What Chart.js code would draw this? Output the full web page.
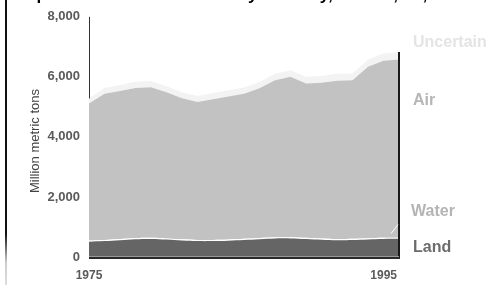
<!DOCTYPE html>
<html>
<head>
<meta charset="utf-8">
<script src="https://cdn.jsdelivr.net/npm/chart.js@4/dist/chart.umd.min.js"></script>
<style>
    html, body { margin: 0; padding: 0; background: #fff; }
    #wrap { position: relative; width: 492px; height: 285px; overflow: hidden; font-family: "Liberation Sans", Arial, sans-serif; }
    #title { position: absolute; left: 10px; top: -15px; font-size: 17px; line-height: 20px; font-weight: bold; color: #000; white-space: nowrap; }
    #edge { position: absolute; left: 5px; top: 0; width: 2px; height: 285px; background: linear-gradient(#111 0%, #111 82%, #ccc 92%, #ddd 100%); }
    .lbl { position: absolute; font-size: 16px; font-weight: bold; white-space: nowrap; }
    canvas { position: absolute; left: 0; top: 0; }
</style>
</head>
<body>
<div id="wrap">
    <canvas id="areaChart" width="492" height="285"></canvas>
    <div id="title">Disposal of toxic chemicals by industry, to land, air, and water in the U.S., 1975-95</div>
    <div id="edge"></div>
    <div class="lbl" style="left:413px;top:33px;color:#e4e4e4;">Uncertain</div>
    <div class="lbl" style="left:413px;top:91px;color:#b6b6b6;">Air</div>
    <div class="lbl" style="left:411px;top:202px;color:#b4b4b4;">Water</div>
    <div class="lbl" style="left:413px;top:238px;color:#6c6c6c;">Land</div>
</div>

<script>
/* =========================
   DATA (million metric tons)
========================= */

const years = [
    1975, 1976, 1977, 1978, 1979, 1980, 1981, 1982, 1983, 1984, 1985,
    1986, 1987, 1988, 1989, 1990, 1991, 1992, 1993, 1994, 1995
];

const land = [510, 530, 560, 590, 600, 580, 550, 530, 530, 545, 565, 590, 615, 620, 600, 575, 560, 565, 585, 600, 605];
const water = [40, 40, 40, 40, 40, 40, 40, 40, 40, 40, 40, 40, 40, 40, 40, 40, 40, 40, 40, 40, 40];
const air = [4560, 4870, 4930, 5000, 5010, 4870, 4700, 4590, 4680, 4760, 4830, 4990, 5230, 5340, 5140, 5190, 5270, 5280, 5710, 5900, 5930];
const uncertain = [170, 190, 200, 210, 210, 200, 200, 200, 210, 210, 210, 210, 220, 220, 220, 220, 230, 230, 240, 240, 250];

const yTicks = [0, 2000, 4000, 6000, 8000];
const xLabels = ["1975", "1995"];
const yTitle = "Million metric tons";

/* =========================
   FRAME PLUGIN
========================= */

const framePlugin = {
    id: "frame",
    afterDatasetsDraw(chart) {
        const ctx = chart.ctx;
        const x = chart.scales.x;
        const y = chart.scales.y;
        const area = chart.chartArea;
        const n = years.length - 1;

        const topFirst = land[0] + water[0] + air[0] + uncertain[0];
        const topLast = land[n] + water[n] + air[n] + uncertain[n];

        ctx.save();

        // left axis above the areas
        ctx.strokeStyle = "#333";
        ctx.lineWidth = 1;
        ctx.beginPath();
        ctx.moveTo(area.left + 0.5, area.top);
        ctx.lineTo(area.left + 0.5, y.getPixelForValue(topFirst));
        ctx.stroke();

        // right edge
        ctx.strokeStyle = "#1a1a1a";
        ctx.lineWidth = 2;
        ctx.beginPath();
        ctx.moveTo(x.getPixelForValue(n), y.getPixelForValue(topLast));
        ctx.lineTo(x.getPixelForValue(n), area.bottom + 1);
        ctx.stroke();

        // bottom edge
        ctx.strokeStyle = "#9a9a9a";
        ctx.lineWidth = 1;
        ctx.beginPath();
        ctx.moveTo(area.left, area.bottom - 0.5);
        ctx.lineTo(x.getPixelForValue(n), area.bottom - 0.5);
        ctx.stroke();

        ctx.strokeStyle = "#2a2a2a";
        ctx.lineWidth = 2;
        ctx.beginPath();
        ctx.moveTo(area.left, area.bottom + 1);
        ctx.lineTo(x.getPixelForValue(n) + 1, area.bottom + 1);
        ctx.stroke();

        // leader to the water band
        const wy = y.getPixelForValue(land[n] + water[n]);
        ctx.strokeStyle = "#fff";
        ctx.lineWidth = 1;
        ctx.beginPath();
        ctx.moveTo(x.getPixelForValue(n) - 8, wy - 4);
        ctx.lineTo(x.getPixelForValue(n) - 1, wy - 13);
        ctx.stroke();

        // x labels
        ctx.font = "bold 12px 'Liberation Sans', Arial, sans-serif";
        ctx.fillStyle = "#5a5a5a";
        ctx.textBaseline = "middle";
        ctx.textAlign = "center";
        ctx.fillText(xLabels[0], x.getPixelForValue(0), 276);
        ctx.textAlign = "right";
        ctx.fillText(xLabels[1], x.getPixelForValue(n) - 2, 276);

        // y title
        ctx.translate(35, 141);
        ctx.rotate(-Math.PI / 2);
        ctx.font = "13px 'Liberation Sans', Arial, sans-serif";
        ctx.fillStyle = "#444";
        ctx.textAlign = "center";
        ctx.fillText(yTitle, 0, 0);

        ctx.restore();
    }
};

/* =========================
   CHART
========================= */

function makeSet(label, data, color, tension, fill) {
    return {
        label: label,
        data: data,
        backgroundColor: color,
        borderWidth: 0,
        pointRadius: 0,
        tension: tension,
        fill: fill
    };
}

new Chart(document.getElementById("areaChart"), {

    type: "line",

    data: {
        labels: years,
        datasets: [
            makeSet("Land", land, "#656565", 0.4, "origin"),
            makeSet("Water", water, "#ffffff", 0.4, "-1"),
            makeSet("Air", air, "#c2c2c2", 0, "-1"),
            makeSet("Uncertain", uncertain, "#f3f3f3", 0, "-1")
        ]
    },

    options: {
        responsive: false,
        animation: false,
        layout: {
            padding: { top: 16, right: 93, bottom: 28, left: 0 }
        },
        plugins: {
            legend: { display: false },
            tooltip: { enabled: false }
        },
        scales: {
            x: {
                offset: false,
                grid: { display: false },
                border: { display: false },
                ticks: { display: false },
                afterFit(scale) { scale.height = 0; }
            },
            y: {
                stacked: true,
                min: 0,
                max: 8000,
                afterFit(scale) { scale.width = 89; },
                afterBuildTicks(scale) {
                    scale.ticks = yTicks.map(v => ({ value: v }));
                },
                grid: { display: false, drawTicks: false },
                border: { display: false },
                ticks: {
                    padding: 9,
                    color: "#5a5a5a",
                    font: { family: "'Liberation Sans', Arial, sans-serif", size: 13, weight: "bold" },
                    callback: v => v.toLocaleString("en-US")
                }
            }
        }
    },

    plugins: [framePlugin]

});
</script>
</body>
</html>
